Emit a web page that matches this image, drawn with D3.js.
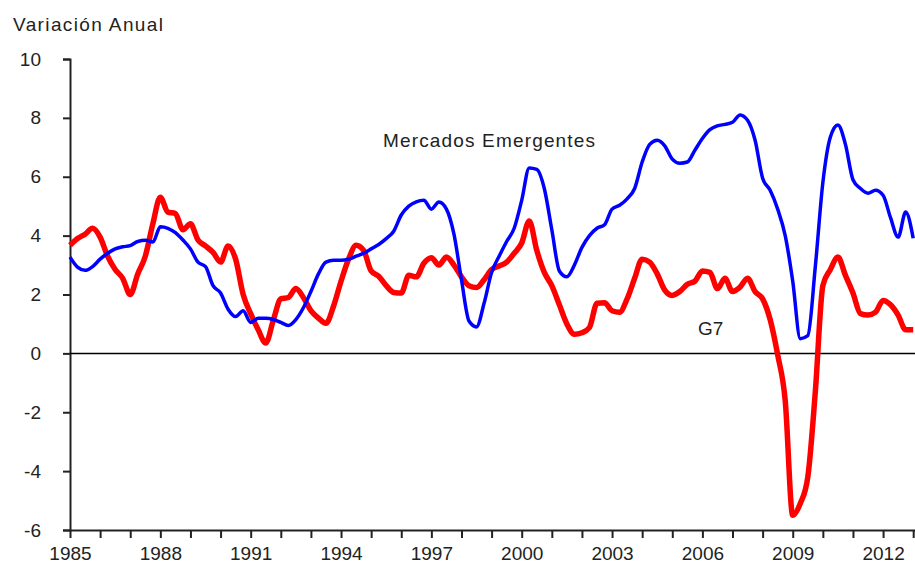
<!DOCTYPE html>
<html>
<head>
<meta charset="utf-8">
<script src="https://cdn.jsdelivr.net/npm/d3@7"></script>
<style>
  body { margin: 0; background: #fff; }
  text { font-family: "Liberation Sans", Arial, sans-serif; fill: #222; }
</style>
</head>
<body>
<div class="chartContainer"></div>
<script>
// quarterly, 1985Q1 .. 2013Q1
var startYear = 1985;

var g7 = [3.67, 3.9, 4.05, 4.25, 3.95, 3.3, 2.85, 2.55, 2.0, 2.7,
  3.3, 4.4, 5.3, 4.8, 4.75, 4.2, 4.4, 3.85, 3.65, 3.43,
  3.1, 3.65, 3.2, 2.0, 1.35, 0.8, 0.35, 1.12, 1.85, 1.9,
  2.2, 1.9, 1.45, 1.2, 1.02, 1.6, 2.45, 3.2, 3.67, 3.5,
  2.8, 2.62, 2.3, 2.07, 2.05, 2.65, 2.6, 3.06, 3.25, 3.0,
  3.27, 3.0, 2.6, 2.3, 2.24, 2.5, 2.85, 2.97, 3.1, 3.4,
  3.75, 4.5, 3.5, 2.75, 2.3, 1.65, 1.0, 0.65, 0.7, 0.88,
  1.7, 1.72, 1.45, 1.4, 1.85, 2.55, 3.2, 3.1, 2.7, 2.15,
  1.97, 2.1, 2.35, 2.45, 2.8, 2.75, 2.2, 2.55, 2.1, 2.25,
  2.55, 2.1, 1.85, 1.15, -0.05, -1.6, -5.5, -5.1, -4.2, -1.3,
  2.3, 2.85, 3.27, 2.65, 2.05, 1.35, 1.3, 1.4, 1.8, 1.65,
  1.3, 0.8, 0.8];

var emergentes = [3.27, 2.93, 2.82, 2.95, 3.2, 3.4, 3.55, 3.62, 3.66, 3.8,
  3.84, 3.78, 4.3, 4.25, 4.1, 3.85, 3.55, 3.1, 2.95, 2.3,
  2.05, 1.5, 1.25, 1.45, 1.05, 1.19, 1.19, 1.15, 1.05, 0.95,
  1.15, 1.55, 2.1, 2.7, 3.1, 3.16, 3.16, 3.2, 3.3, 3.4,
  3.55, 3.7, 3.9, 4.15, 4.7, 5.0, 5.15, 5.2, 4.9, 5.14,
  4.9, 4.05, 2.5, 1.1, 0.9, 1.7, 2.75, 3.3, 3.8, 4.25,
  5.2, 6.3, 6.25, 5.6, 4.2, 2.8, 2.6, 3.0, 3.6, 4.0,
  4.25, 4.37, 4.9, 5.03, 5.25, 5.6, 6.5, 7.1, 7.24, 7.05,
  6.6, 6.46, 6.5, 6.9, 7.3, 7.6, 7.73, 7.78, 7.85, 8.1,
  7.92, 7.24, 5.95, 5.54, 4.9, 4.0, 2.45, 0.5, 0.6, 2.95,
  5.8, 7.35, 7.76, 7.1, 5.9, 5.6, 5.44, 5.54, 5.37, 4.6,
  3.95, 4.8, 3.91];

var yTicks = [-6, -4, -2, 0, 2, 4, 6, 8, 10];
var yearTicks = d3.range(1985, 2014);
var yearLabels = [1985, 1988, 1991, 1994, 1997, 2000, 2003, 2006, 2009, 2012];

var width = 915;
var height = 568;

var svg = d3.select(".chartContainer")
  .append("svg")
    .attr("width", width)
    .attr("height", height);

var x = d3.scaleLinear()
    .domain([1985, 2013.06])
    .range([70, 915]);

var y = d3.scaleLinear()
    .domain([-6, 10])
    .range([530, 59]);

// ======= title ========

svg.append("text")
    .attr("x", 13)
    .attr("y", 31)
    .style("font-size", "19px")
    .attr("textLength", 150)
    .text("Variación Anual");

// ======= axes ========

var yAxis = d3.axisLeft(y)
    .tickValues(yTicks)
    .tickSize(7)
    .tickPadding(22)
    .tickFormat(function(d) { return String(d); });

var gy = svg.append("g")
    .attr("transform", "translate(70,0)")
    .call(yAxis);
gy.select(".domain").attr("stroke", "#222").attr("stroke-width", 2);
gy.selectAll(".tick line").attr("stroke", "#222").attr("stroke-width", 2);
gy.selectAll(".tick text")
    .style("font-size", "19px")
    .style("font-family", "Liberation Sans, Arial, sans-serif")
    .attr("fill", "#222");

var xAxis = d3.axisBottom(x)
    .tickValues(yearTicks)
    .tickSize(8)
    .tickSizeOuter(0)
    .tickPadding(9)
    .tickFormat(function(d) { return yearLabels.indexOf(d) >= 0 ? d : ""; });

var gx = svg.append("g")
    .attr("transform", "translate(0,530)")
    .call(xAxis);
gx.select(".domain").attr("stroke", "#222").attr("stroke-width", 2);
gx.selectAll(".tick line").attr("stroke", "#222").attr("stroke-width", 2);
gx.selectAll(".tick text")
    .style("font-size", "19px")
    .style("font-family", "Liberation Sans, Arial, sans-serif")
    .attr("fill", "#222");

// zero line
svg.append("line")
    .attr("x1", x(1985)).attr("x2", 915)
    .attr("y1", y(0)).attr("y2", y(0))
    .attr("stroke", "#000")
    .attr("stroke-width", 1.5);

// ======= lines ========

var line = d3.line()
    .x(function(d, i) { return x(startYear + i / 4); })
    .y(function(d) { return y(d); })
    .curve(d3.curveMonotoneX);

svg.append("path")
    .datum(g7)
    .attr("d", line)
    .attr("fill", "none")
    .attr("stroke", "#ff0000")
    .attr("stroke-width", 5.5)
    .attr("stroke-linejoin", "round");

svg.append("path")
    .datum(emergentes)
    .attr("d", line)
    .attr("fill", "none")
    .attr("stroke", "#0000ff")
    .attr("stroke-width", 3.5)
    .attr("stroke-linejoin", "round");

// ======= labels ========

svg.append("text")
    .attr("x", 383)
    .attr("y", 147)
    .style("font-size", "19px")
    .attr("textLength", 212)
    .text("Mercados Emergentes");

svg.append("text")
    .attr("x", 698)
    .attr("y", 335)
    .style("font-size", "19px")
    .text("G7");
</script>
</body>
</html>
